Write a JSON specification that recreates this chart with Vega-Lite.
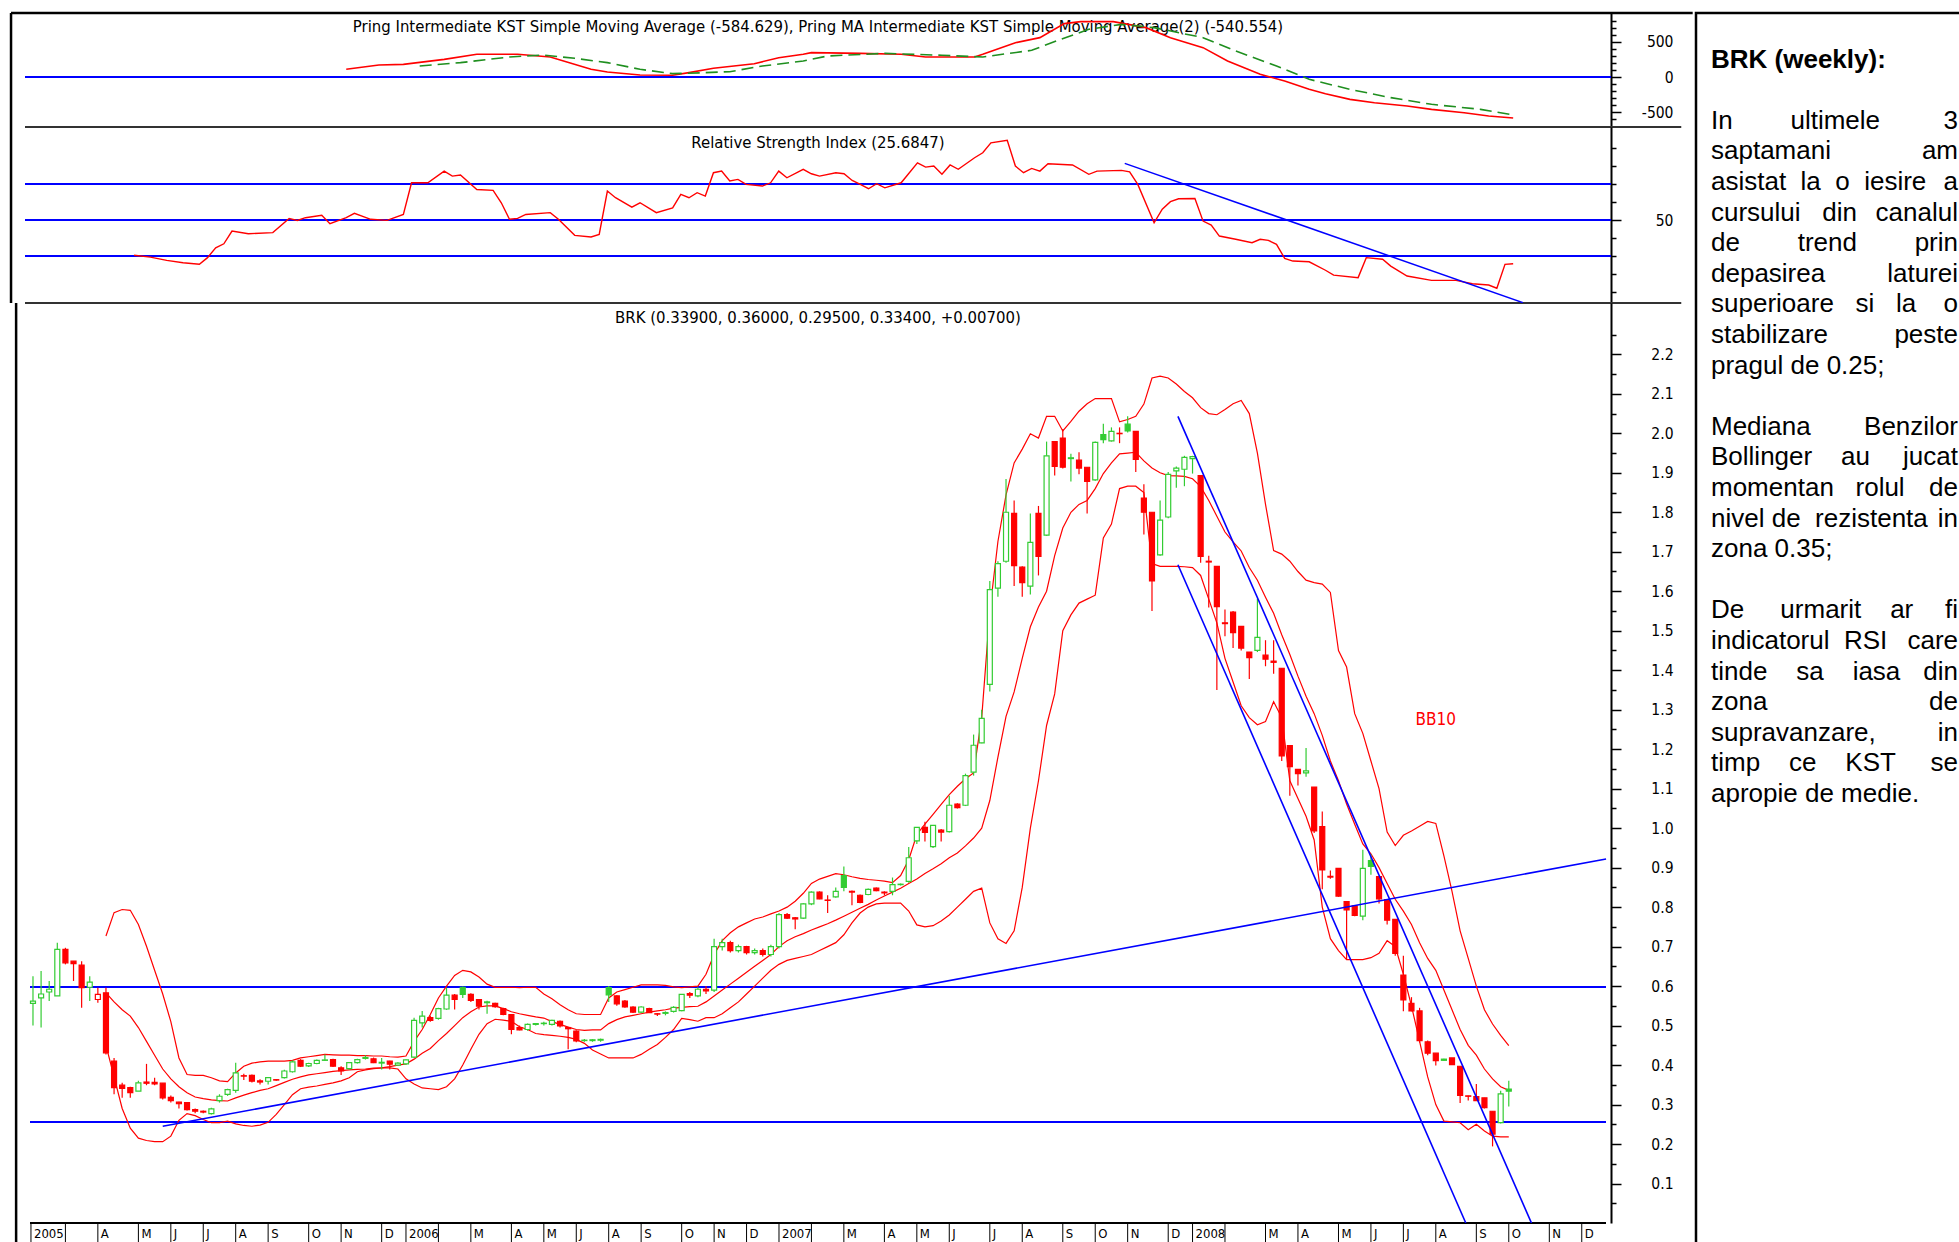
{
"$schema":"https://vega.github.io/schema/vega-lite/v6.json",
"autosize":{"type":"pad"},
"padding":{"left":9,"top":11,"right":0,"bottom":0},
"background":"white",
"spacing":0,
"config":{"view":{"stroke":null},"axis":{"labelFont":"DejaVu Sans Condensed, DejaVu Sans, sans-serif","labelFontSize":15.5,"labelColor":"#000","domainColor":"#000","tickColor":"#000","domainWidth":2,"tickWidth":1.5,"grid":false,"labelOverlap":false,"labelFlush":false}},
"datasets":{
"kst":[{"i":39,"v":110},{"i":43,"v":171},{"i":46,"v":181},{"i":51,"v":252},{"i":55,"v":324},{"i":60,"v":324},{"i":64,"v":286},{"i":69,"v":110},{"i":71,"v":71},{"i":75,"v":29},{"i":79,"v":24},{"i":81,"v":62},{"i":84,"v":124},{"i":89,"v":190},{"i":92,"v":276},{"i":95,"v":324},{"i":96,"v":348},{"i":102,"v":338},{"i":107,"v":324},{"i":110,"v":286},{"i":116,"v":286},{"i":117,"v":324},{"i":121,"v":490},{"i":124,"v":562},{"i":127,"v":762},{"i":129,"v":791},{"i":133,"v":791},{"i":137,"v":705},{"i":140,"v":562},{"i":144,"v":419},{"i":147,"v":229},{"i":151,"v":38},{"i":154,"v":-57},{"i":157,"v":-176},{"i":159,"v":-238},{"i":162,"v":-319},{"i":165,"v":-367},{"i":169,"v":-414},{"i":172,"v":-462},{"i":176,"v":-510},{"i":179,"v":-557},{"i":182,"v":-584.6}],
"kstma":[{"i":48,"v":157},{"i":53,"v":205},{"i":59,"v":286},{"i":63,"v":314},{"i":67,"v":267},{"i":71,"v":205},{"i":75,"v":110},{"i":79,"v":48},{"i":83,"v":62},{"i":86,"v":76},{"i":90,"v":157},{"i":95,"v":229},{"i":98,"v":300},{"i":105,"v":338},{"i":112,"v":310},{"i":117,"v":286},{"i":123,"v":381},{"i":126,"v":514},{"i":130,"v":681},{"i":134,"v":752},{"i":138,"v":705},{"i":144,"v":562},{"i":148,"v":371},{"i":153,"v":157},{"i":157,"v":-33},{"i":162,"v":-176},{"i":167,"v":-295},{"i":172,"v":-390},{"i":178,"v":-462},{"i":182,"v":-540.6}],
"rsi":[{"i":13,"v":30.4},{"i":15,"v":29.4},{"i":17,"v":27.6},{"i":19,"v":26.3},{"i":21,"v":25.4},{"i":22,"v":29.1},{"i":23,"v":34.6},{"i":24,"v":36.8},{"i":25,"v":43.9},{"i":27,"v":42.4},{"i":30,"v":43},{"i":32,"v":50.9},{"i":33,"v":49.8},{"i":34,"v":51.3},{"i":36,"v":52.6},{"i":37,"v":48},{"i":39,"v":51.3},{"i":40,"v":53.7},{"i":42,"v":50.4},{"i":44,"v":49.8},{"i":46,"v":53.1},{"i":47,"v":70.7},{"i":49,"v":70.7},{"i":51,"v":77.2},{"i":52,"v":74.4},{"i":53,"v":75},{"i":55,"v":67},{"i":57,"v":66.5},{"i":58,"v":59.6},{"i":59,"v":50.4},{"i":60,"v":50.9},{"i":61,"v":53.1},{"i":64,"v":54.1},{"i":65,"v":50.4},{"i":67,"v":41.5},{"i":69,"v":40.6},{"i":70,"v":42},{"i":71,"v":66.1},{"i":72,"v":62.4},{"i":74,"v":57.2},{"i":75,"v":59.6},{"i":77,"v":54.1},{"i":79,"v":56.8},{"i":80,"v":64.3},{"i":81,"v":62.4},{"i":82,"v":65.2},{"i":83,"v":63.3},{"i":84,"v":76.3},{"i":85,"v":77.2},{"i":86,"v":71.7},{"i":87,"v":72.6},{"i":88,"v":69.8},{"i":90,"v":68.9},{"i":91,"v":70.7},{"i":92,"v":77.2},{"i":93,"v":73.5},{"i":95,"v":78.2},{"i":96,"v":75.7},{"i":97,"v":74.4},{"i":99,"v":76.3},{"i":100,"v":75.7},{"i":101,"v":72},{"i":102,"v":69.8},{"i":103,"v":67.4},{"i":104,"v":70.2},{"i":105,"v":67.9},{"i":107,"v":70.7},{"i":109,"v":81.8},{"i":110,"v":79.4},{"i":111,"v":80},{"i":112,"v":75.4},{"i":113,"v":80.6},{"i":114,"v":78.2},{"i":116,"v":84.6},{"i":117,"v":87.4},{"i":118,"v":92.9},{"i":120,"v":94.3},{"i":121,"v":80},{"i":122,"v":76.3},{"i":123,"v":78.7},{"i":124,"v":77.2},{"i":125,"v":81.3},{"i":128,"v":80.6},{"i":130,"v":75.4},{"i":131,"v":77.2},{"i":134,"v":77.6},{"i":135,"v":76.8},{"i":136,"v":69.8},{"i":138,"v":48.5},{"i":139,"v":56},{"i":140,"v":60.2},{"i":141,"v":61.8},{"i":143,"v":62},{"i":144,"v":49.4},{"i":145,"v":47.2},{"i":146,"v":41.1},{"i":148,"v":39.3},{"i":150,"v":37.4},{"i":151,"v":39.3},{"i":152,"v":38.7},{"i":153,"v":36.5},{"i":154,"v":28.7},{"i":155,"v":27.2},{"i":157,"v":26.8},{"i":159,"v":22.1},{"i":160,"v":19.4},{"i":163,"v":18},{"i":164,"v":29.1},{"i":166,"v":28.2},{"i":167,"v":24.4},{"i":169,"v":18.9},{"i":172,"v":16.5},{"i":175,"v":16.5},{"i":177,"v":14.6},{"i":179,"v":13.9},{"i":180,"v":12.1},{"i":181,"v":25.4},{"i":182,"v":25.68}],
"rsitrend":[{"i":134.4,"v":81.5},{"i":183.2,"v":4.1}],
"trend":[{"id":"rise","i":16,"p":0.245},{"id":"rise","i":194,"p":0.922},{"id":"chA","i":141.2,"p":2.043},{"id":"chA","i":184.8,"p":0},{"id":"chB","i":141.2,"p":1.667},{"id":"chB","i":176.7,"p":0}],
"months":[{"i":-0.25,"m":"2005"},{"i":4,"m":""},{"i":8,"m":"A"},{"i":13,"m":"M"},{"i":17,"m":"J"},{"i":21,"m":"J"},{"i":25,"m":"A"},{"i":29,"m":"S"},{"i":34,"m":"O"},{"i":38,"m":"N"},{"i":43,"m":"D"},{"i":46,"m":"2006"},{"i":50,"m":""},{"i":54,"m":"M"},{"i":59,"m":"A"},{"i":63,"m":"M"},{"i":67,"m":"J"},{"i":71,"m":"A"},{"i":75,"m":"S"},{"i":80,"m":"O"},{"i":84,"m":"N"},{"i":88,"m":"D"},{"i":92,"m":"2007"},{"i":96,"m":""},{"i":100,"m":"M"},{"i":105,"m":"A"},{"i":109,"m":"M"},{"i":113,"m":"J"},{"i":118,"m":"J"},{"i":122,"m":"A"},{"i":127,"m":"S"},{"i":131,"m":"O"},{"i":135,"m":"N"},{"i":140,"m":"D"},{"i":143,"m":"2008"},{"i":147,"m":""},{"i":152,"m":"M"},{"i":156,"m":"A"},{"i":161,"m":"M"},{"i":165,"m":"J"},{"i":169,"m":"J"},{"i":173,"m":"A"},{"i":178,"m":"S"},{"i":182,"m":"O"},{"i":187,"m":"N"},{"i":191,"m":"D"}],
"ohlc":[{"i":0,"o":0.556,"h":0.625,"l":0.5,"c":0.562},{"i":1,"o":0.57,"h":0.638,"l":0.495,"c":0.58},{"i":2,"o":0.585,"h":0.613,"l":0.562,"c":0.592},{"i":3,"o":0.575,"h":0.71,"l":0.575,"c":0.693},{"i":4,"o":0.693,"h":0.697,"l":0.655,"c":0.659},{"i":5,"o":0.663,"h":0.663,"l":0.613,"c":0.657},{"i":6,"o":0.653,"h":0.663,"l":0.545,"c":0.596},{"i":7,"o":0.597,"h":0.625,"l":0.562,"c":0.61},{"i":8,"o":0.566,"h":0.596,"l":0.558,"c":0.579},{"i":9,"o":0.583,"h":0.596,"l":0.427,"c":0.431},{"i":10,"o":0.41,"h":0.418,"l":0.326,"c":0.343},{"i":11,"o":0.349,"h":0.355,"l":0.317,"c":0.341},{"i":12,"o":0.343,"h":0.345,"l":0.317,"c":0.33},{"i":13,"o":0.334,"h":0.36,"l":0.334,"c":0.355},{"i":14,"o":0.357,"h":0.403,"l":0.349,"c":0.354},{"i":15,"o":0.356,"h":0.368,"l":0.349,"c":0.352},{"i":16,"o":0.354,"h":0.354,"l":0.313,"c":0.317},{"i":17,"o":0.318,"h":0.323,"l":0.305,"c":0.31},{"i":18,"o":0.306,"h":0.307,"l":0.29,"c":0.302},{"i":19,"o":0.305,"h":0.306,"l":0.285,"c":0.287},{"i":20,"o":0.287,"h":0.29,"l":0.278,"c":0.283},{"i":21,"o":0.283,"h":0.285,"l":0.278,"c":0.281},{"i":22,"o":0.277,"h":0.292,"l":0.275,"c":0.289},{"i":23,"o":0.31,"h":0.326,"l":0.305,"c":0.321},{"i":24,"o":0.326,"h":0.34,"l":0.322,"c":0.338},{"i":25,"o":0.336,"h":0.406,"l":0.33,"c":0.38},{"i":26,"o":0.373,"h":0.378,"l":0.362,"c":0.372},{"i":27,"o":0.374,"h":0.376,"l":0.356,"c":0.359},{"i":28,"o":0.36,"h":0.364,"l":0.351,"c":0.357},{"i":29,"o":0.359,"h":0.37,"l":0.351,"c":0.368},{"i":30,"o":0.363,"h":0.364,"l":0.36,"c":0.362},{"i":31,"o":0.368,"h":0.388,"l":0.366,"c":0.385},{"i":32,"o":0.383,"h":0.412,"l":0.381,"c":0.408},{"i":33,"o":0.412,"h":0.415,"l":0.395,"c":0.397},{"i":34,"o":0.398,"h":0.406,"l":0.395,"c":0.404},{"i":35,"o":0.404,"h":0.414,"l":0.402,"c":0.412},{"i":36,"o":0.412,"h":0.427,"l":0.41,"c":0.413},{"i":37,"o":0.414,"h":0.416,"l":0.395,"c":0.397},{"i":38,"o":0.393,"h":0.397,"l":0.375,"c":0.385},{"i":39,"o":0.391,"h":0.408,"l":0.389,"c":0.406},{"i":40,"o":0.406,"h":0.416,"l":0.404,"c":0.414},{"i":41,"o":0.419,"h":0.425,"l":0.414,"c":0.417},{"i":42,"o":0.416,"h":0.419,"l":0.405,"c":0.406},{"i":43,"o":0.405,"h":0.418,"l":0.389,"c":0.407},{"i":44,"o":0.41,"h":0.411,"l":0.389,"c":0.402},{"i":45,"o":0.4,"h":0.407,"l":0.398,"c":0.405},{"i":46,"o":0.403,"h":0.414,"l":0.401,"c":0.413},{"i":47,"o":0.42,"h":0.52,"l":0.418,"c":0.513},{"i":48,"o":0.507,"h":0.537,"l":0.495,"c":0.524},{"i":49,"o":0.52,"h":0.525,"l":0.51,"c":0.513},{"i":50,"o":0.518,"h":0.545,"l":0.515,"c":0.543},{"i":51,"o":0.542,"h":0.596,"l":0.54,"c":0.577},{"i":52,"o":0.577,"h":0.58,"l":0.541,"c":0.566},{"i":53,"o":0.597,"h":0.599,"l":0.57,"c":0.579},{"i":54,"o":0.579,"h":0.582,"l":0.56,"c":0.564},{"i":55,"o":0.566,"h":0.566,"l":0.541,"c":0.549},{"i":56,"o":0.558,"h":0.563,"l":0.53,"c":0.56},{"i":57,"o":0.556,"h":0.558,"l":0.545,"c":0.548},{"i":58,"o":0.543,"h":0.545,"l":0.526,"c":0.528},{"i":59,"o":0.528,"h":0.528,"l":0.478,"c":0.49},{"i":60,"o":0.495,"h":0.5,"l":0.488,"c":0.489},{"i":61,"o":0.49,"h":0.505,"l":0.487,"c":0.503},{"i":62,"o":0.503,"h":0.506,"l":0.5,"c":0.505},{"i":63,"o":0.505,"h":0.51,"l":0.5,"c":0.506},{"i":64,"o":0.503,"h":0.515,"l":0.5,"c":0.513},{"i":65,"o":0.511,"h":0.513,"l":0.495,"c":0.499},{"i":66,"o":0.495,"h":0.497,"l":0.44,"c":0.492},{"i":67,"o":0.486,"h":0.488,"l":0.458,"c":0.461},{"i":68,"o":0.462,"h":0.466,"l":0.459,"c":0.463},{"i":69,"o":0.462,"h":0.466,"l":0.459,"c":0.464},{"i":70,"o":0.463,"h":0.467,"l":0.459,"c":0.465},{"i":71,"o":0.596,"h":0.6,"l":0.56,"c":0.578},{"i":72,"o":0.575,"h":0.577,"l":0.55,"c":0.555},{"i":73,"o":0.562,"h":0.565,"l":0.545,"c":0.547},{"i":74,"o":0.547,"h":0.549,"l":0.532,"c":0.534},{"i":75,"o":0.534,"h":0.549,"l":0.532,"c":0.547},{"i":76,"o":0.543,"h":0.545,"l":0.532,"c":0.533},{"i":77,"o":0.53,"h":0.532,"l":0.524,"c":0.529},{"i":78,"o":0.531,"h":0.536,"l":0.526,"c":0.533},{"i":79,"o":0.536,"h":0.549,"l":0.533,"c":0.546},{"i":80,"o":0.538,"h":0.58,"l":0.536,"c":0.579},{"i":81,"o":0.581,"h":0.585,"l":0.57,"c":0.577},{"i":82,"o":0.575,"h":0.597,"l":0.572,"c":0.592},{"i":83,"o":0.592,"h":0.6,"l":0.58,"c":0.588},{"i":84,"o":0.59,"h":0.72,"l":0.585,"c":0.7},{"i":85,"o":0.7,"h":0.72,"l":0.69,"c":0.71},{"i":86,"o":0.71,"h":0.715,"l":0.685,"c":0.69},{"i":87,"o":0.69,"h":0.705,"l":0.685,"c":0.7},{"i":88,"o":0.7,"h":0.702,"l":0.68,"c":0.685},{"i":89,"o":0.685,"h":0.695,"l":0.68,"c":0.69},{"i":90,"o":0.69,"h":0.695,"l":0.675,"c":0.68},{"i":91,"o":0.68,"h":0.705,"l":0.675,"c":0.7},{"i":92,"o":0.7,"h":0.785,"l":0.695,"c":0.781},{"i":93,"o":0.781,"h":0.785,"l":0.77,"c":0.772},{"i":94,"o":0.773,"h":0.775,"l":0.744,"c":0.77},{"i":95,"o":0.772,"h":0.81,"l":0.77,"c":0.808},{"i":96,"o":0.808,"h":0.84,"l":0.805,"c":0.838},{"i":97,"o":0.838,"h":0.84,"l":0.82,"c":0.821},{"i":98,"o":0.818,"h":0.83,"l":0.785,"c":0.817},{"i":99,"o":0.826,"h":0.85,"l":0.824,"c":0.84},{"i":100,"o":0.88,"h":0.903,"l":0.84,"c":0.85},{"i":101,"o":0.84,"h":0.842,"l":0.805,"c":0.838},{"i":102,"o":0.83,"h":0.832,"l":0.81,"c":0.812},{"i":103,"o":0.832,"h":0.847,"l":0.83,"c":0.845},{"i":104,"o":0.848,"h":0.85,"l":0.84,"c":0.842},{"i":105,"o":0.838,"h":0.84,"l":0.83,"c":0.836},{"i":106,"o":0.84,"h":0.875,"l":0.83,"c":0.857},{"i":107,"o":0.857,"h":0.86,"l":0.855,"c":0.858},{"i":108,"o":0.865,"h":0.952,"l":0.862,"c":0.925},{"i":109,"o":0.968,"h":1.0,"l":0.96,"c":1.002},{"i":110,"o":1.002,"h":1.016,"l":0.966,"c":0.989},{"i":111,"o":0.953,"h":1.007,"l":0.95,"c":1.007},{"i":112,"o":0.995,"h":0.998,"l":0.966,"c":0.99},{"i":113,"o":0.991,"h":1.082,"l":0.989,"c":1.058},{"i":114,"o":1.061,"h":1.063,"l":1.05,"c":1.052},{"i":115,"o":1.058,"h":1.138,"l":1.056,"c":1.133},{"i":116,"o":1.142,"h":1.237,"l":1.133,"c":1.21},{"i":117,"o":1.216,"h":1.3,"l":1.215,"c":1.278},{"i":118,"o":1.364,"h":1.626,"l":1.346,"c":1.604},{"i":119,"o":1.608,"h":1.676,"l":1.586,"c":1.67},{"i":120,"o":1.676,"h":1.884,"l":1.672,"c":1.8},{"i":121,"o":1.797,"h":1.83,"l":1.613,"c":1.665},{"i":122,"o":1.661,"h":1.663,"l":1.586,"c":1.622},{"i":123,"o":1.613,"h":1.797,"l":1.592,"c":1.724},{"i":124,"o":1.797,"h":1.816,"l":1.64,"c":1.688},{"i":125,"o":1.742,"h":1.979,"l":1.74,"c":1.943},{"i":126,"o":1.979,"h":1.979,"l":1.893,"c":1.916},{"i":127,"o":1.988,"h":2.011,"l":1.911,"c":1.914},{"i":128,"o":1.936,"h":1.948,"l":1.878,"c":1.938},{"i":129,"o":1.932,"h":1.952,"l":1.896,"c":1.912},{"i":130,"o":1.914,"h":1.914,"l":1.797,"c":1.878},{"i":131,"o":1.882,"h":1.979,"l":1.88,"c":1.977},{"i":132,"o":1.997,"h":2.024,"l":1.975,"c":1.984},{"i":133,"o":1.981,"h":2.015,"l":1.979,"c":2.005},{"i":134,"o":2.0,"h":2.015,"l":1.975,"c":1.999},{"i":135,"o":2.023,"h":2.043,"l":2.002,"c":2.006},{"i":136,"o":2.005,"h":2.005,"l":1.902,"c":1.934},{"i":137,"o":1.836,"h":1.871,"l":1.744,"c":1.8},{"i":138,"o":1.8,"h":1.8,"l":1.55,"c":1.626},{"i":139,"o":1.692,"h":1.83,"l":1.69,"c":1.78},{"i":140,"o":1.788,"h":1.902,"l":1.785,"c":1.896},{"i":141,"o":1.905,"h":1.916,"l":1.862,"c":1.912},{"i":142,"o":1.909,"h":1.943,"l":1.866,"c":1.939},{"i":143,"o":1.936,"h":1.943,"l":1.898,"c":1.941},{"i":144,"o":1.893,"h":1.893,"l":1.672,"c":1.688},{"i":145,"o":1.676,"h":1.69,"l":1.559,"c":1.674},{"i":146,"o":1.663,"h":1.663,"l":1.35,"c":1.561},{"i":147,"o":1.52,"h":1.554,"l":1.486,"c":1.518},{"i":148,"o":1.547,"h":1.55,"l":1.456,"c":1.495},{"i":149,"o":1.511,"h":1.511,"l":1.45,"c":1.456},{"i":150,"o":1.446,"h":1.446,"l":1.378,"c":1.432},{"i":151,"o":1.45,"h":1.581,"l":1.446,"c":1.483},{"i":152,"o":1.438,"h":1.476,"l":1.41,"c":1.428},{"i":153,"o":1.423,"h":1.476,"l":1.391,"c":1.42},{"i":154,"o":1.405,"h":1.405,"l":1.17,"c":1.183},{"i":155,"o":1.209,"h":1.209,"l":1.082,"c":1.156},{"i":156,"o":1.149,"h":1.149,"l":1.108,"c":1.138},{"i":157,"o":1.14,"h":1.203,"l":1.13,"c":1.145},{"i":158,"o":1.104,"h":1.104,"l":0.988,"c":0.993},{"i":159,"o":1.004,"h":1.042,"l":0.845,"c":0.894},{"i":160,"o":0.878,"h":0.893,"l":0.872,"c":0.876},{"i":161,"o":0.898,"h":0.898,"l":0.826,"c":0.828},{"i":162,"o":0.814,"h":0.814,"l":0.667,"c":0.793},{"i":163,"o":0.803,"h":0.803,"l":0.777,"c":0.779},{"i":164,"o":0.777,"h":0.945,"l":0.767,"c":0.898},{"i":165,"o":0.918,"h":0.934,"l":0.882,"c":0.903},{"i":166,"o":0.877,"h":0.877,"l":0.809,"c":0.821},{"i":167,"o":0.819,"h":0.819,"l":0.756,"c":0.767},{"i":168,"o":0.769,"h":0.769,"l":0.677,"c":0.683},{"i":169,"o":0.628,"h":0.677,"l":0.536,"c":0.565},{"i":170,"o":0.556,"h":0.572,"l":0.536,"c":0.537},{"i":171,"o":0.537,"h":0.545,"l":0.457,"c":0.462},{"i":172,"o":0.459,"h":0.462,"l":0.425,"c":0.43},{"i":173,"o":0.43,"h":0.43,"l":0.399,"c":0.411},{"i":174,"o":0.412,"h":0.416,"l":0.41,"c":0.415},{"i":175,"o":0.418,"h":0.418,"l":0.4,"c":0.401},{"i":176,"o":0.397,"h":0.397,"l":0.304,"c":0.323},{"i":177,"o":0.322,"h":0.322,"l":0.31,"c":0.321},{"i":178,"o":0.32,"h":0.352,"l":0.309,"c":0.31},{"i":179,"o":0.317,"h":0.317,"l":0.29,"c":0.292},{"i":180,"o":0.283,"h":0.283,"l":0.194,"c":0.225},{"i":181,"o":0.254,"h":0.335,"l":0.252,"c":0.327},{"i":182,"o":0.339,"h":0.36,"l":0.295,"c":0.334}],
"bb":[{"i":9,"u":0.727,"m":0.583,"lo":0.45},{"i":10,"u":0.786,"m":0.56,"lo":0.37},{"i":11,"u":0.794,"m":0.54,"lo":0.29},{"i":12,"u":0.792,"m":0.524,"lo":0.24},{"i":13,"u":0.756,"m":0.495,"lo":0.215},{"i":14,"u":0.701,"m":0.46,"lo":0.209},{"i":15,"u":0.64,"m":0.425,"lo":0.206},{"i":16,"u":0.58,"m":0.39,"lo":0.206},{"i":17,"u":0.51,"m":0.365,"lo":0.22},{"i":18,"u":0.418,"m":0.345,"lo":0.26},{"i":19,"u":0.376,"m":0.33,"lo":0.277},{"i":20,"u":0.374,"m":0.319,"lo":0.272},{"i":21,"u":0.374,"m":0.315,"lo":0.262},{"i":22,"u":0.368,"m":0.312,"lo":0.254},{"i":23,"u":0.36,"m":0.31,"lo":0.254},{"i":24,"u":0.358,"m":0.309,"lo":0.258},{"i":25,"u":0.38,"m":0.317,"lo":0.251},{"i":26,"u":0.397,"m":0.324,"lo":0.247},{"i":27,"u":0.405,"m":0.33,"lo":0.245},{"i":28,"u":0.408,"m":0.336,"lo":0.248},{"i":29,"u":0.41,"m":0.34,"lo":0.255},{"i":30,"u":0.41,"m":0.348,"lo":0.275},{"i":31,"u":0.41,"m":0.356,"lo":0.3},{"i":32,"u":0.412,"m":0.364,"lo":0.325},{"i":33,"u":0.418,"m":0.37,"lo":0.34},{"i":34,"u":0.421,"m":0.375,"lo":0.344},{"i":35,"u":0.424,"m":0.378,"lo":0.347},{"i":36,"u":0.427,"m":0.381,"lo":0.351},{"i":37,"u":0.426,"m":0.384,"lo":0.355},{"i":38,"u":0.425,"m":0.386,"lo":0.36},{"i":39,"u":0.425,"m":0.388,"lo":0.368},{"i":40,"u":0.424,"m":0.389,"lo":0.383},{"i":41,"u":0.424,"m":0.39,"lo":0.388},{"i":42,"u":0.423,"m":0.392,"lo":0.391},{"i":43,"u":0.423,"m":0.393,"lo":0.393},{"i":44,"u":0.421,"m":0.396,"lo":0.393},{"i":45,"u":0.42,"m":0.4,"lo":0.39},{"i":46,"u":0.423,"m":0.403,"lo":0.365},{"i":47,"u":0.46,"m":0.415,"lo":0.352},{"i":48,"u":0.49,"m":0.43,"lo":0.342},{"i":49,"u":0.528,"m":0.442,"lo":0.34},{"i":50,"u":0.57,"m":0.462,"lo":0.338},{"i":51,"u":0.6,"m":0.48,"lo":0.345},{"i":52,"u":0.627,"m":0.5,"lo":0.365},{"i":53,"u":0.64,"m":0.52,"lo":0.4},{"i":54,"u":0.636,"m":0.535,"lo":0.44},{"i":55,"u":0.623,"m":0.547,"lo":0.478},{"i":56,"u":0.605,"m":0.55,"lo":0.505},{"i":57,"u":0.597,"m":0.55,"lo":0.516},{"i":58,"u":0.597,"m":0.543,"lo":0.514},{"i":59,"u":0.597,"m":0.535,"lo":0.511},{"i":60,"u":0.596,"m":0.53,"lo":0.497},{"i":61,"u":0.597,"m":0.526,"lo":0.49},{"i":62,"u":0.597,"m":0.522,"lo":0.48},{"i":63,"u":0.58,"m":0.519,"lo":0.477},{"i":64,"u":0.568,"m":0.51,"lo":0.475},{"i":65,"u":0.553,"m":0.503,"lo":0.473},{"i":66,"u":0.54,"m":0.496,"lo":0.47},{"i":67,"u":0.53,"m":0.49,"lo":0.465},{"i":68,"u":0.528,"m":0.488,"lo":0.455},{"i":69,"u":0.528,"m":0.489,"lo":0.438},{"i":70,"u":0.528,"m":0.489,"lo":0.428},{"i":71,"u":0.57,"m":0.505,"lo":0.418},{"i":72,"u":0.585,"m":0.515,"lo":0.418},{"i":73,"u":0.591,"m":0.522,"lo":0.418},{"i":74,"u":0.597,"m":0.526,"lo":0.418},{"i":75,"u":0.603,"m":0.53,"lo":0.427},{"i":76,"u":0.603,"m":0.534,"lo":0.44},{"i":77,"u":0.603,"m":0.537,"lo":0.452},{"i":78,"u":0.602,"m":0.54,"lo":0.47},{"i":79,"u":0.598,"m":0.544,"lo":0.49},{"i":80,"u":0.596,"m":0.546,"lo":0.518},{"i":81,"u":0.598,"m":0.548,"lo":0.515},{"i":82,"u":0.6,"m":0.549,"lo":0.511},{"i":83,"u":0.63,"m":0.56,"lo":0.52},{"i":84,"u":0.68,"m":0.575,"lo":0.52},{"i":85,"u":0.715,"m":0.59,"lo":0.53},{"i":86,"u":0.735,"m":0.605,"lo":0.545},{"i":87,"u":0.75,"m":0.62,"lo":0.56},{"i":88,"u":0.76,"m":0.635,"lo":0.58},{"i":89,"u":0.77,"m":0.65,"lo":0.6},{"i":90,"u":0.775,"m":0.665,"lo":0.62},{"i":91,"u":0.783,"m":0.68,"lo":0.64},{"i":92,"u":0.79,"m":0.7,"lo":0.655},{"i":93,"u":0.8,"m":0.715,"lo":0.665},{"i":94,"u":0.815,"m":0.725,"lo":0.67},{"i":95,"u":0.835,"m":0.733,"lo":0.675},{"i":96,"u":0.86,"m":0.742,"lo":0.68},{"i":97,"u":0.871,"m":0.75,"lo":0.69},{"i":98,"u":0.878,"m":0.758,"lo":0.7},{"i":99,"u":0.885,"m":0.767,"lo":0.71},{"i":100,"u":0.882,"m":0.777,"lo":0.73},{"i":101,"u":0.877,"m":0.787,"lo":0.76},{"i":102,"u":0.873,"m":0.797,"lo":0.785},{"i":103,"u":0.87,"m":0.807,"lo":0.8},{"i":104,"u":0.868,"m":0.818,"lo":0.808},{"i":105,"u":0.866,"m":0.828,"lo":0.81},{"i":106,"u":0.862,"m":0.838,"lo":0.81},{"i":107,"u":0.88,"m":0.848,"lo":0.81},{"i":108,"u":0.92,"m":0.86,"lo":0.79},{"i":109,"u":0.984,"m":0.871,"lo":0.755},{"i":110,"u":1.01,"m":0.885,"lo":0.75},{"i":111,"u":1.035,"m":0.897,"lo":0.753},{"i":112,"u":1.06,"m":0.91,"lo":0.765},{"i":113,"u":1.085,"m":0.925,"lo":0.78},{"i":114,"u":1.106,"m":0.937,"lo":0.8},{"i":115,"u":1.125,"m":0.955,"lo":0.82},{"i":116,"u":1.14,"m":0.975,"lo":0.84},{"i":117,"u":1.28,"m":1.0,"lo":0.848},{"i":118,"u":1.55,"m":1.07,"lo":0.76},{"i":119,"u":1.726,"m":1.18,"lo":0.72},{"i":120,"u":1.844,"m":1.283,"lo":0.708},{"i":121,"u":1.925,"m":1.345,"lo":0.74},{"i":122,"u":1.96,"m":1.43,"lo":0.85},{"i":123,"u":1.999,"m":1.51,"lo":1.0},{"i":124,"u":1.988,"m":1.56,"lo":1.12},{"i":125,"u":2.043,"m":1.6,"lo":1.26},{"i":126,"u":2.043,"m":1.69,"lo":1.34},{"i":127,"u":2.006,"m":1.76,"lo":1.5},{"i":128,"u":2.03,"m":1.8,"lo":1.54},{"i":129,"u":2.056,"m":1.82,"lo":1.57},{"i":130,"u":2.075,"m":1.83,"lo":1.58},{"i":131,"u":2.088,"m":1.86,"lo":1.59},{"i":132,"u":2.088,"m":1.898,"lo":1.735},{"i":133,"u":2.088,"m":1.925,"lo":1.77},{"i":134,"u":2.029,"m":1.948,"lo":1.86},{"i":135,"u":2.035,"m":1.95,"lo":1.866},{"i":136,"u":2.043,"m":1.952,"lo":1.866},{"i":137,"u":2.074,"m":1.93,"lo":1.85},{"i":138,"u":2.14,"m":1.912,"lo":1.67},{"i":139,"u":2.145,"m":1.9,"lo":1.663},{"i":140,"u":2.14,"m":1.893,"lo":1.663},{"i":141,"u":2.125,"m":1.892,"lo":1.663},{"i":142,"u":2.106,"m":1.891,"lo":1.662},{"i":143,"u":2.09,"m":1.885,"lo":1.66},{"i":144,"u":2.065,"m":1.865,"lo":1.64},{"i":145,"u":2.05,"m":1.83,"lo":1.58},{"i":146,"u":2.047,"m":1.79,"lo":1.52},{"i":147,"u":2.06,"m":1.75,"lo":1.43},{"i":148,"u":2.075,"m":1.725,"lo":1.37},{"i":149,"u":2.083,"m":1.702,"lo":1.31},{"i":150,"u":2.05,"m":1.66,"lo":1.28},{"i":151,"u":1.95,"m":1.628,"lo":1.262},{"i":152,"u":1.82,"m":1.585,"lo":1.27},{"i":153,"u":1.703,"m":1.544,"lo":1.32},{"i":154,"u":1.694,"m":1.49,"lo":1.28},{"i":155,"u":1.676,"m":1.44,"lo":1.12},{"i":156,"u":1.65,"m":1.385,"lo":1.075},{"i":157,"u":1.628,"m":1.334,"lo":1.03},{"i":158,"u":1.622,"m":1.29,"lo":0.97},{"i":159,"u":1.618,"m":1.235,"lo":0.8},{"i":160,"u":1.597,"m":1.17,"lo":0.72},{"i":161,"u":1.45,"m":1.12,"lo":0.69},{"i":162,"u":1.408,"m":1.061,"lo":0.667},{"i":163,"u":1.29,"m":1.01,"lo":0.667},{"i":164,"u":1.24,"m":0.96,"lo":0.667},{"i":165,"u":1.17,"m":0.935,"lo":0.672},{"i":166,"u":1.1,"m":0.9,"lo":0.683},{"i":167,"u":0.99,"m":0.86,"lo":0.715},{"i":168,"u":0.956,"m":0.82,"lo":0.7},{"i":169,"u":0.982,"m":0.79,"lo":0.63},{"i":170,"u":0.993,"m":0.756,"lo":0.55},{"i":171,"u":1.005,"m":0.71,"lo":0.46},{"i":172,"u":1.017,"m":0.67,"lo":0.37},{"i":173,"u":1.012,"m":0.64,"lo":0.3},{"i":174,"u":0.93,"m":0.59,"lo":0.258},{"i":175,"u":0.84,"m":0.54,"lo":0.256},{"i":176,"u":0.74,"m":0.49,"lo":0.254},{"i":177,"u":0.67,"m":0.45,"lo":0.236},{"i":178,"u":0.6,"m":0.425,"lo":0.25},{"i":179,"u":0.54,"m":0.39,"lo":0.233},{"i":180,"u":0.504,"m":0.365,"lo":0.22},{"i":181,"u":0.475,"m":0.345,"lo":0.218},{"i":182,"u":0.449,"m":0.336,"lo":0.218}],
"notes":[{"ln":0,"l":"BRK (weekly):","r":""},{"ln":2,"l":"In\u00a0\u00a0\u00a0\u00a0\u00a0\u00a0\u00a0\u00a0ultimele","r":"3"},{"ln":3,"l":"saptamani","r":"am"},{"ln":4,"l":"asistat\u00a0\u00a0la\u00a0\u00a0o\u00a0\u00a0iesire","r":"a"},{"ln":5,"l":"cursului\u00a0\u00a0\u00a0din","r":"canalul"},{"ln":6,"l":"de\u00a0\u00a0\u00a0\u00a0\u00a0\u00a0\u00a0\u00a0trend","r":"prin"},{"ln":7,"l":"depasirea","r":"laturei"},{"ln":8,"l":"superioare\u00a0\u00a0\u00a0si\u00a0\u00a0\u00a0la","r":"o"},{"ln":9,"l":"stabilizare","r":"peste"},{"ln":10,"l":"pragul de 0.25;","r":""},{"ln":12,"l":"Mediana","r":"Benzilor"},{"ln":13,"l":"Bollinger\u00a0\u00a0\u00a0\u00a0au","r":"jucat"},{"ln":14,"l":"momentan\u00a0\u00a0\u00a0rolul","r":"de"},{"ln":15,"l":"nivel de\u00a0\u00a0rezistenta","r":"in"},{"ln":16,"l":"zona 0.35;","r":""},{"ln":18,"l":"De\u00a0\u00a0\u00a0\u00a0\u00a0urmarit\u00a0\u00a0\u00a0\u00a0ar","r":"fi"},{"ln":19,"l":"indicatorul\u00a0\u00a0RSI","r":"care"},{"ln":20,"l":"tinde\u00a0\u00a0\u00a0\u00a0sa\u00a0\u00a0\u00a0\u00a0iasa","r":"din"},{"ln":21,"l":"zona","r":"de"},{"ln":22,"l":"supravanzare,","r":"in"},{"ln":23,"l":"timp\u00a0\u00a0\u00a0\u00a0ce\u00a0\u00a0\u00a0\u00a0KST","r":"se"},{"ln":24,"l":"apropie de medie.","r":""}]
},
"hconcat":[
{"vconcat":[
{"width":1586,"height":114,
"resolve":{"axis":{"y":"independent"}},
"layer":[
{"data":{"values":[{}]},"mark":{"type":"rule","color":"#0000ff","strokeWidth":2},
"encoding":{"x":{"datum":-0.3676,"type":"quantitative","scale":{"domain":[-0.3676,193.99],"nice":false,"zero":false},"axis":null},"x2":{"datum":193.99},
"y":{"datum":0,"type":"quantitative","scale":{"domain":[-714,914],"nice":false,"zero":false},"axis":{"orient":"right","title":null,"values":[-500,0,500],"tickSize":10,"labelExpr":"datum.value === 500 ? '500' : (datum.value === 0 ? '0' : '-500')","labelOverlap":false,"labelAlign":"right","labelPadding":52,"labelBaseline":"middle"}}}},
{"data":{"values":[{}]},"mark":{"type":"rule","color":"#000","strokeWidth":2.5},"encoding":{"x":{"datum":-2.08,"type":"quantitative"},"x2":{"datum":204.0},"y":{"datum":914,"type":"quantitative","axis":{"orient":"right","title":null,"values":[-600,-400,-300,-200,-100,100,200,300,400,600,700,800],"tickSize":5,"labels":false,"domain":false}}}},
{"data":{"values":[{}]},"mark":{"type":"rule","color":"#000","strokeWidth":2.5},"encoding":{"x":{"datum":-2.08,"type":"quantitative"},"y":{"datum":-714,"type":"quantitative","axis":null},"y2":{"datum":914}}},
{"data":{"values":[{}]},"mark":{"type":"rule","color":"#333","strokeWidth":2},"encoding":{"x":{"datum":-0.3676,"type":"quantitative"},"x2":{"datum":202.6},"y":{"datum":-714,"type":"quantitative","axis":null}}},
{"data":{"values":[{"t":"Pring Intermediate KST Simple Moving Average (-584.629), Pring MA Intermediate KST Simple Moving Average(2) (-540.554)"}]},"mark":{"type":"text","color":"#000","fontSize":16.6,"font":"DejaVu Sans Condensed, DejaVu Sans, sans-serif","align":"center","baseline":"middle"},"encoding":{"x":{"datum":96.81,"type":"quantitative"},"y":{"datum":714,"type":"quantitative","axis":null},"text":{"field":"t"}}},
{"data":{"name":"kst"},"mark":{"type":"line","color":"#ff0000","strokeWidth":1.6},"encoding":{"x":{"field":"i","type":"quantitative"},"y":{"field":"v","type":"quantitative","axis":null}}},
{"data":{"name":"kstma"},"mark":{"type":"line","color":"#1f8f1f","strokeWidth":1.6,"strokeDash":[12,6]},"encoding":{"x":{"field":"i","type":"quantitative"},"y":{"field":"v","type":"quantitative","axis":null}}}
]},
{"width":1586,"height":176,
"resolve":{"axis":{"y":"independent"}},
"layer":[
{"data":{"values":[{"v":30},{"v":50},{"v":70}]},"mark":{"type":"rule","color":"#0000ff","strokeWidth":2},
"encoding":{"x":{"datum":-0.3676,"type":"quantitative","scale":{"domain":[-0.3676,193.99],"nice":false,"zero":false},"axis":null},"x2":{"datum":193.99},
"y":{"field":"v","type":"quantitative","scale":{"domain":[3.9,101.7],"nice":false,"zero":false},"axis":{"orient":"right","title":null,"values":[50],"tickSize":10,"labelOverlap":false,"labelAlign":"right","labelPadding":52,"labelBaseline":"middle"}}}},
{"data":{"values":[{}]},"mark":{"type":"rule","color":"#000","strokeWidth":2.5},"encoding":{"x":{"datum":-2.08,"type":"quantitative"},"y":{"datum":3.9,"type":"quantitative","axis":{"orient":"right","title":null,"values":[10,20,30,40,60,70,80,90],"tickSize":5,"labels":false,"domain":false}},"y2":{"datum":101.7}}},
{"data":{"values":[{}]},"mark":{"type":"rule","color":"#333","strokeWidth":2},"encoding":{"x":{"datum":-0.3676,"type":"quantitative"},"x2":{"datum":202.6},"y":{"datum":3.9,"type":"quantitative","axis":null}}},
{"data":{"values":[{"t":"Relative Strength Index (25.6847)"}]},"mark":{"type":"text","color":"#000","fontSize":16.6,"font":"DejaVu Sans Condensed, DejaVu Sans, sans-serif","align":"center","baseline":"middle"},"encoding":{"x":{"datum":96.81,"type":"quantitative"},"y":{"datum":92.8,"type":"quantitative","axis":null},"text":{"field":"t"}}},
{"data":{"name":"rsi"},"mark":{"type":"line","color":"#ff0000","strokeWidth":1.4},"encoding":{"x":{"field":"i","type":"quantitative"},"y":{"field":"v","type":"quantitative","axis":null}}},
{"data":{"name":"rsitrend"},"mark":{"type":"line","color":"#0000ff","strokeWidth":1.5,"clip":true},"encoding":{"x":{"field":"i","type":"quantitative"},"y":{"field":"v","type":"quantitative","axis":null}}}
]},
{"width":1586,"height":920,
"resolve":{"axis":{"y":"independent"}},
"layer":[
{"data":{"values":[{"v":0.598},{"v":0.256}]},"mark":{"type":"rule","color":"#0000ff","strokeWidth":2},
"encoding":{"x":{"datum":-0.3676,"type":"quantitative","scale":{"domain":[-0.3676,193.99],"nice":false,"zero":false},"axis":null},"x2":{"datum":193.99},
"y":{"field":"v","type":"quantitative","scale":{"domain":[0,2.33],"nice":false,"zero":false},"axis":{"orient":"right","title":null,"values":[0.1,0.2,0.3,0.4,0.5,0.6,0.7,0.8,0.9,1.0,1.1,1.2,1.3,1.4,1.5,1.6,1.7,1.8,1.9,2.0,2.1,2.2],"format":".1f","tickSize":10,"labelOverlap":false,"labelAlign":"right","labelPadding":52,"labelBaseline":"middle"}}}},
{"data":{"values":[{}]},"mark":{"type":"rule","color":"#000","strokeWidth":2.5},"encoding":{"x":{"datum":-2.08,"type":"quantitative"},"y":{"datum":-0.053,"type":"quantitative","axis":{"orient":"right","title":null,"values":[0.05,0.15,0.25,0.35,0.45,0.55,0.65,0.75,0.85,0.95,1.05,1.15,1.25,1.35,1.45,1.55,1.65,1.75,1.85,1.95,2.05,2.15,2.25],"tickSize":5,"labels":false,"domain":false}},"y2":{"datum":2.33}}},
{"data":{"values":[{}]},"mark":{"type":"rule","color":"#000","strokeWidth":2},"encoding":{"x":{"datum":-0.3676,"type":"quantitative"},"x2":{"datum":193.99},"y":{"datum":0,"type":"quantitative","axis":null}}},
{"data":{"values":[{"t":"BRK (0.33900, 0.36000, 0.29500, 0.33400, +0.00700)"}]},"mark":{"type":"text","color":"#000","fontSize":16.6,"font":"DejaVu Sans Condensed, DejaVu Sans, sans-serif","align":"center","baseline":"middle"},"encoding":{"x":{"datum":96.81,"type":"quantitative"},"y":{"datum":2.292,"type":"quantitative","axis":null},"text":{"field":"t"}}},
{"data":{"name":"bb"},"mark":{"type":"line","color":"#ff0000","strokeWidth":1.2},"encoding":{"x":{"field":"i","type":"quantitative"},"y":{"field":"u","type":"quantitative","axis":null}}},
{"data":{"name":"bb"},"mark":{"type":"line","color":"#ff0000","strokeWidth":1.2},"encoding":{"x":{"field":"i","type":"quantitative"},"y":{"field":"m","type":"quantitative","axis":null}}},
{"data":{"name":"bb"},"mark":{"type":"line","color":"#ff0000","strokeWidth":1.2},"encoding":{"x":{"field":"i","type":"quantitative"},"y":{"field":"lo","type":"quantitative","axis":null}}},
{"data":{"name":"ohlc"},
"transform":[{"window":[{"op":"lag","field":"c","as":"pc"}],"sort":[{"field":"i","order":"ascending"}]}],
"layer":[
{"mark":{"type":"rule","strokeWidth":1.2},"encoding":{"x":{"field":"i","type":"quantitative"},"y":{"field":"l","type":"quantitative","axis":null},"y2":{"field":"h"},"color":{"condition":{"test":"datum.c >= (datum.pc == null ? datum.o : datum.pc)","value":"#33cc33"},"value":"#ff0000"}}},
{"mark":{"type":"bar","width":5,"strokeWidth":1.2},"encoding":{"x":{"field":"i","type":"quantitative"},"y":{"field":"o","type":"quantitative","axis":null},"y2":{"field":"c"},"stroke":{"condition":{"test":"datum.c >= (datum.pc == null ? datum.o : datum.pc)","value":"#33cc33"},"value":"#ff0000"},"fill":{"condition":[{"test":"datum.c >= datum.o","value":"#ffffff"},{"test":"datum.c >= (datum.pc == null ? datum.o : datum.pc)","value":"#33cc33"}],"value":"#ff0000"}}}
]},
{"data":{"name":"trend"},"mark":{"type":"line","color":"#0000ff","strokeWidth":1.6,"clip":true},"encoding":{"x":{"field":"i","type":"quantitative"},"y":{"field":"p","type":"quantitative","axis":null},"detail":{"field":"id"}}},
{"data":{"values":[{"t":"BB10"}]},"mark":{"type":"text","color":"#ff0000","fontSize":17,"font":"DejaVu Sans Condensed, DejaVu Sans, sans-serif","align":"center","baseline":"middle"},"encoding":{"x":{"datum":173,"type":"quantitative"},"y":{"datum":1.274,"type":"quantitative","axis":null},"text":{"field":"t"}}},
{"data":{"name":"months"},"mark":{"type":"rule","color":"#000","strokeWidth":1},"encoding":{"x":{"field":"i","type":"quantitative"},"y":{"datum":0,"type":"quantitative","axis":null},"y2":{"datum":-0.053}}},
{"data":{"name":"months"},"mark":{"type":"text","color":"#000","fontSize":13,"font":"DejaVu Sans Condensed, DejaVu Sans, sans-serif","align":"left","baseline":"middle","dx":3},"encoding":{"x":{"field":"i","type":"quantitative"},"y":{"datum":-0.027,"type":"quantitative","axis":null},"text":{"field":"m"}}}
]}
],"spacing":0,"bounds":"flush"},
{"width":270,"height":1232,"view":{"stroke":"#000","strokeWidth":2.5},
"data":{"name":"notes"},
"layer":[
{"transform":[{"filter":"datum.ln === 0"}],"mark":{"type":"text","align":"left","baseline":"middle","font":"Liberation Sans, Arial, sans-serif","fontSize":26,"fontWeight":"bold","color":"#000"},"encoding":{"x":{"datum":0,"type":"quantitative","scale":{"domain":[0,1],"range":[15,262]},"axis":null},"y":{"field":"ln","type":"quantitative","scale":{"domain":[-1.52,38.74],"reverse":true,"nice":false,"zero":false},"axis":null},"text":{"field":"l"}}},
{"transform":[{"filter":"datum.ln > 0"}],"mark":{"type":"text","align":"left","baseline":"middle","font":"Liberation Sans, Arial, sans-serif","fontSize":26,"color":"#000"},"encoding":{"x":{"datum":0,"type":"quantitative"},"y":{"field":"ln","type":"quantitative"},"text":{"field":"l"}}},
{"mark":{"type":"text","align":"right","baseline":"middle","font":"Liberation Sans, Arial, sans-serif","fontSize":26,"color":"#000"},"encoding":{"x":{"datum":1,"type":"quantitative"},"y":{"field":"ln","type":"quantitative"},"text":{"field":"r"}}}
]}
]
}
